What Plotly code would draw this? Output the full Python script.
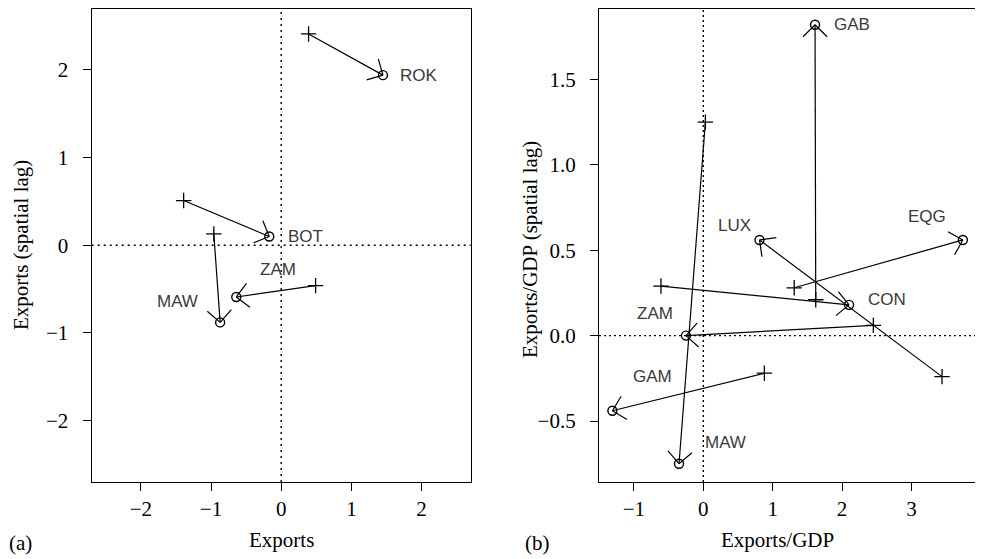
import math
import plotly.graph_objects as go

# page has an 8px body margin; figure sized to fill the rest of the window
PAGE_W, PAGE_H = 983, 559
OFF = 8
W, H = PAGE_W - OFF, PAGE_H - OFF

# ---------------- data ----------------
# Panel (a): Exports vs spatial lag; "+" = start, "o" = end
a_names = ["ROK", "BOT", "MAW", "ZAM"]
a_x0 = [0.39, -1.39, -0.96, 0.49]
a_y0 = [2.41, 0.51, 0.13, -0.46]
a_x1 = [1.45, -0.17, -0.87, -0.64]
a_y1 = [1.94, 0.10, -0.88, -0.59]

# Panel (b): Exports/GDP vs spatial lag
b_names = ["GAB", "EQG", "LUX", "CON", "ZAM", "GAM", "MAW"]
b_x0 = [1.62, 1.31, 3.44, -0.61, 2.45, 0.88, 0.03]
b_y0 = [0.21, 0.28, -0.24, 0.29, 0.06, -0.22, 1.25]
b_x1 = [1.61, 3.74, 0.81, 2.10, -0.25, -1.31, -0.35]
b_y1 = [1.82, 0.56, 0.56, 0.18, 0.00, -0.44, -0.75]

a_xticks = [-2, -1, 0, 1, 2]
a_yticks = [-2, -1, 0, 1, 2]
b_xticks = [-1, 0, 1, 2, 3]
b_yticks = [-0.5, 0.0, 0.5, 1.0, 1.5]

# ---------------- layout geometry / styles (page pixels) ----------------
A_DOM_PX = (91.7, 470.7)
B_DOM_PX = (599.0, 975.7)
Y_DOM_PX = (8.0, 482.0)  # top, bottom (from top of page)
A_XR = [-2.7, 2.7]
A_YR = [-2.7, 2.7]
B_XR = [-1.503, 3.925]
B_YR = [-0.857, 1.915]

# label pixel offsets (dx right, dy up)
a_lab_off = [(36, 0), (36, 0), (-43, 21), (42, 27)]
b_lab_off = [(37, 0), (-36, 23), (-25, 14), (38, 5), (-31, 22), (40, 34), (46, 21)]

BARB_LEN = 17
BARB_ANG = math.radians(45)

SERIF = "Liberation Serif, Times New Roman, serif"
SANS = "Liberation Sans, Arial, sans-serif"


def scales(dom_px, xr, yr):
    sx = (dom_px[1] - dom_px[0]) / (xr[1] - xr[0])
    sy = (Y_DOM_PX[1] - Y_DOM_PX[0]) / (yr[1] - yr[0])
    return sx, sy


def build_lines(x0, y0, x1, y1, sx, sy):
    lx, ly = [], []
    for i in range(len(x0)):
        lx += [x0[i], x1[i], None]
        ly += [y0[i], y1[i], None]
        # arrow barbs at end point (computed in pixel space)
        dx = (x0[i] - x1[i]) * sx
        dy = (y0[i] - y1[i]) * sy
        n = math.hypot(dx, dy)
        ux, uy = dx / n, dy / n
        for s in (1, -1):
            c, sn = math.cos(s * BARB_ANG), math.sin(s * BARB_ANG)
            rx = ux * c - uy * sn
            ry = ux * sn + uy * c
            bx = x1[i] + BARB_LEN * rx / sx
            by = y1[i] + BARB_LEN * ry / sy
            lx += [bx, x1[i], None]
            ly += [by, y1[i], None]
    return lx, ly


fig = go.Figure()

panels = [
    (a_names, a_x0, a_y0, a_x1, a_y1, a_lab_off, A_DOM_PX, A_XR, A_YR, "x", "y"),
    (b_names, b_x0, b_y0, b_x1, b_y1, b_lab_off, B_DOM_PX, B_XR, B_YR, "x2", "y2"),
]

annotations = []
for names, x0, y0, x1, y1, offs, dom, xr, yr, xa, ya in panels:
    sx, sy = scales(dom, xr, yr)
    lx, ly = build_lines(x0, y0, x1, y1, sx, sy)
    fig.add_trace(go.Scatter(x=lx, y=ly, mode="lines", xaxis=xa, yaxis=ya,
                             line=dict(color="black", width=1.2),
                             hoverinfo="skip", showlegend=False))
    fig.add_trace(go.Scatter(x=x0, y=y0, mode="markers", xaxis=xa, yaxis=ya,
                             marker=dict(symbol="cross-thin-open", size=11, color="black",
                                         line=dict(color="black", width=1.3)),
                             showlegend=False))
    fig.add_trace(go.Scatter(x=x1, y=y1, mode="markers", xaxis=xa, yaxis=ya,
                             marker=dict(symbol="circle-open", size=9, color="black",
                                         line=dict(color="black", width=1.4)),
                             showlegend=False))
    for i, nm in enumerate(names):
        annotations.append(dict(x=x1[i], y=y1[i], xref=xa, yref=ya, text=nm,
                                showarrow=False, xshift=offs[i][0], yshift=offs[i][1],
                                font=dict(family=SANS, size=17, color="#3a3a3a")))

# dotted zero lines
shapes = []
for xa, ya, dash in (("x", "y", "2px,4px"), ("x2", "y2", "2px,3px")):
    shapes.append(dict(type="line", xref=xa, yref=ya + " domain", x0=0, x1=0, y0=0, y1=1,
                       line=dict(color="black", width=1.4, dash=dash), layer="below"))
    shapes.append(dict(type="line", xref=xa + " domain", yref=ya, x0=0, x1=1, y0=0, y1=0,
                       line=dict(color="black", width=1.4, dash=dash), layer="below"))


def px2fx(p):
    return (p - OFF) / W


def py2fy(p):
    return (PAGE_H - p) / H


ydom = [py2fy(Y_DOM_PX[1]), min(1.0, py2fy(Y_DOM_PX[0] + 0.5))]

axis_common = dict(showgrid=False, zeroline=False, showline=True, mirror=True,
                   linecolor="black", linewidth=1.3, ticks="outside", ticklen=8,
                   tickwidth=1.3, tickcolor="black",
                   tickfont=dict(family=SERIF, size=21, color="black"))

# axis titles and panel tags
tfont = dict(family=SERIF, size=21, color="black")
for txt, x, y, ang in (("Exports", 281, 540, 0),
                       ("Exports (spatial lag)", 21, 245, -90),
                       ("Exports/GDP", 777, 540, 0),
                       ("Exports/GDP (spatial lag)", 530, 250, -90),
                       ("(a)", 20, 543, 0),
                       ("(b)", 537, 543, 0)):
    annotations.append(dict(x=px2fx(x), y=py2fy(y), xref="paper", yref="paper",
                            text=txt, showarrow=False, textangle=ang,
                            xanchor="center", yanchor="middle", font=tfont))

fig.update_layout(
    width=W, height=H,
    margin=dict(l=0, r=0, t=0, b=0),
    paper_bgcolor="white", plot_bgcolor="white",
    xaxis=dict(domain=[px2fx(A_DOM_PX[0]), px2fx(A_DOM_PX[1])], range=A_XR,
               tickvals=a_xticks, anchor="y", ticklabelstandoff=0, **axis_common),
    yaxis=dict(domain=ydom, range=A_YR, tickvals=a_yticks, anchor="x",
               ticklabelstandoff=10, **axis_common),
    xaxis2=dict(domain=[px2fx(B_DOM_PX[0]), px2fx(B_DOM_PX[1])], range=B_XR,
                tickvals=b_xticks, anchor="y2", ticklabelstandoff=0, **axis_common),
    yaxis2=dict(domain=ydom, range=B_YR, tickvals=b_yticks, tickformat=".1f",
                anchor="x2", ticklabelstandoff=10, **axis_common),
    shapes=shapes,
    annotations=annotations,
)

fig.write_html("out.html")
